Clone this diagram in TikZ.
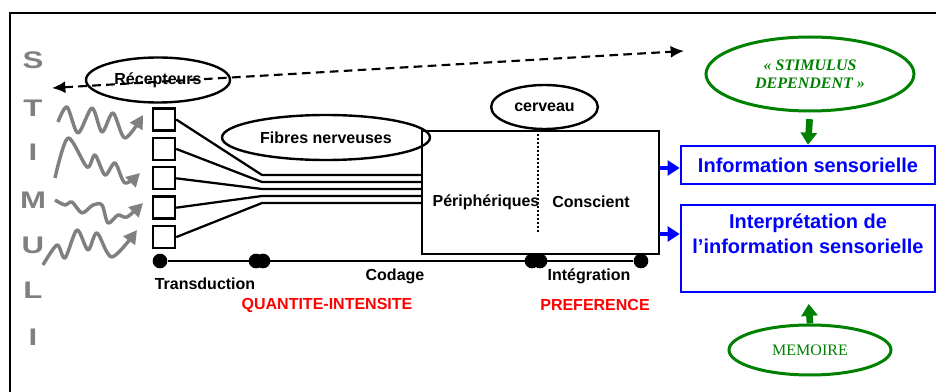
\documentclass[tikz,border=0pt]{standalone}
\usepackage{fontspec}
\setmainfont{Liberation Sans}
\newfontfamily\greenserif{Liberation Serif}
\newfontfamily\widesans[FakeStretch=1.3]{Liberation Sans}
\usetikzlibrary{shapes.geometric,arrows.meta,positioning}
\definecolor{stimgray}{RGB}{128,128,128}
\definecolor{darkgreen}{RGB}{0,128,0}

\begin{document}
\begin{tikzpicture}[x=0.75pt,y=-0.75pt]
        % Styles for the ovals, boxes and arrows
        \tikzset{
            oval/.style={
                draw,
                ellipse,
                line width=1.8pt,
                inner sep=0pt,
                font=\bfseries\fontsize{12}{14}\selectfont
            },
            receptor/.style={
                draw,
                rectangle,
                line width=1.8pt,
                minimum size=16.5pt,
                inner sep=0pt
            },
            txt/.style={
                inner sep=0pt,
                font=\bfseries\fontsize{12}{14}\selectfont
            },
            redtxt/.style={txt, text=red},
            letter/.style={
                text=stimgray,
                font=\widesans\bfseries\fontsize{18}{20}\selectfont
            },
            blob/.style={circle, fill, inner sep=0pt, minimum size=11pt},
            wave/.style={
                stimgray,
                line width=2.6pt,
                line join=round,
                -{Triangle[length=10pt,width=10.5pt]}
            },
            bluebox/.style={
                draw=blue,
                rectangle,
                line width=1.9pt,
                inner sep=0pt,
                minimum width=190.5pt,
                text=blue,
                font=\bfseries\fontsize{15}{18.75}\selectfont
            },
            bluearrow/.style={
                blue,
                line width=2.5pt,
                -{Triangle[length=9pt,width=11pt]}
            },
            greenoval/.style={
                draw=darkgreen,
                ellipse,
                line width=2.25pt,
                inner sep=0pt,
                text=darkgreen,
                align=center
            },
            greenarrow/.style={
                darkgreen,
                line width=5pt,
                -{Triangle[length=9pt,width=12pt]}
            }
        }
        \useasboundingbox (0,0) rectangle (936,392);
        % Outer frame (runs off the page on the right and at the bottom)
        \draw[line width=1.8pt] (936,13) -- (10,13) -- (10,392);
        % The word STIMULI, one letter under the other
        \foreach \ch/\yy [count=\k] in {S/60,T/108,I/152,M/200,U/245,L/290,I/337} {
            \node[letter] (letter\k) at (33,\yy) {\ch};
        }
        % Stimuli as wavy arrows
        \draw[wave] plot[smooth] coordinates {(58,122) (67,107) (78,133) (92,108) (102,132) (113,113) (125,138) (143,115)};
        \draw[wave] plot[smooth] coordinates {(55,178) (68,138) (87,167) (95,155) (105,175) (115,163) (125,183) (140,173)};
        \draw[wave] plot[smooth] coordinates {(55,200) (65,205) (72,202) (82,213) (93,205) (102,205) (108,223) (118,215) (127,217) (143,203)};
        \draw[wave] plot[smooth] coordinates {(43,265) (57,245) (65,258) (77,230) (88,250) (97,233) (112,257) (137,230)};
        % Receptors
        \def\sqgap{29.4}
        \foreach \i in {0,...,4} {
            \node[receptor] (square\i) at (164,119.5+\sqgap*\i) {};
        }
        % Brain box
        \node[draw, line width=1.8pt, minimum width=177.75pt, minimum height=92.25pt, inner sep=0pt] (brain) at (540.5,192.5) {};
        \coordinate (split) at (538,233);
        \draw[line width=1.6pt, dash pattern=on 1.5pt off 1.5pt] (split |- brain.north) -- (split);
        \node[txt] (periph) at (486,202) {Périphériques};
        \node[txt] (consc) at (591,202) {Conscient};
        % Nerve fibres, converging then running into the brain box
        \foreach \i/\yy in {0/175,1/182,2/189,3/196,4/203} {
            \coordinate (join\i) at (262,\yy);
            \draw[line width=1.7pt] (square\i.east) -- (join\i) -- (join\i -| brain.west);
        }
        % Ovals
        \node[oval, minimum width=108pt, minimum height=33.75pt] (recep) at (158,80) {Récepteurs};
        \node[oval, minimum width=156pt, minimum height=33.75pt] (fibres) at (326,137.5) {Fibres nerveuses};
        \node[oval, minimum width=80pt, minimum height=33pt] (cerveau) at (544.5,107) {cerveau};
        % Dashed arrow across the top
        \coordinate (dleft) at (52,88);
        \coordinate (dright) at (684,51);
        \draw[line width=1.6pt, dash pattern=on 6.5pt off 4pt, {Latex[length=10pt,width=9pt]}-{Latex[length=10pt,width=9pt]}] (dleft) -- (dright);
        % Time line with its stages
        \foreach \i/\xx in {0/160,1/256,2/263,3/532,4/540,5/641} {
            \node[blob] (dot\i) at (\xx,261) {};
        }
        \draw[line width=1.8pt] (dot0) -- (dot5);
        \node[txt] (transd) at (205,284) {Transduction};
        \node[txt] (codage) at (395,276) {Codage};
        \node[txt] (integr) at (589,276) {Intégration};
        \node[redtxt] (quant) at (327,305) {QUANTITE-INTENSITE};
        \node[redtxt] (pref) at (595,305) {PREFERENCE};
        % Blue result boxes
        \node[bluebox, minimum height=28.5pt] (info) at (808,165) {Information sensorielle};
        \node[bluebox, minimum height=65.25pt] (interp) at (808,248.5) {};
        \node[inner sep=0pt, align=center, text=blue, font=\bfseries\fontsize{15}{18.75}\selectfont, below=7.5pt of interp.north] (interptxt) {Interprétation de\\l’information sensorielle};
        \coordinate (ia) at (659,168);
        \coordinate (ib) at (659,234);
        \draw[bluearrow] (ia) -- (ia -| info.west);
        \draw[bluearrow] (ib) -- (ib -| interp.west);
        % Green ovals
        \node[greenoval, minimum width=156pt, minimum height=55.5pt, font=\greenserif\bfseries\itshape\fontsize{12}{13.5}\selectfont] (stim) at (810,74) {« STIMULUS\\DEPENDENT »};
        \node[greenoval, minimum width=121.5pt, minimum height=37.5pt, font=\greenserif\fontsize{12}{14}\selectfont] (memoire) at (810,350) {MEMOIRE};
        \draw[greenarrow, shorten <=5pt] (stim.south) -- (info.north);
        \draw[greenarrow, shorten >=8pt] (memoire.north) -- (interp.south);
    \end{tikzpicture}
\end{document}
